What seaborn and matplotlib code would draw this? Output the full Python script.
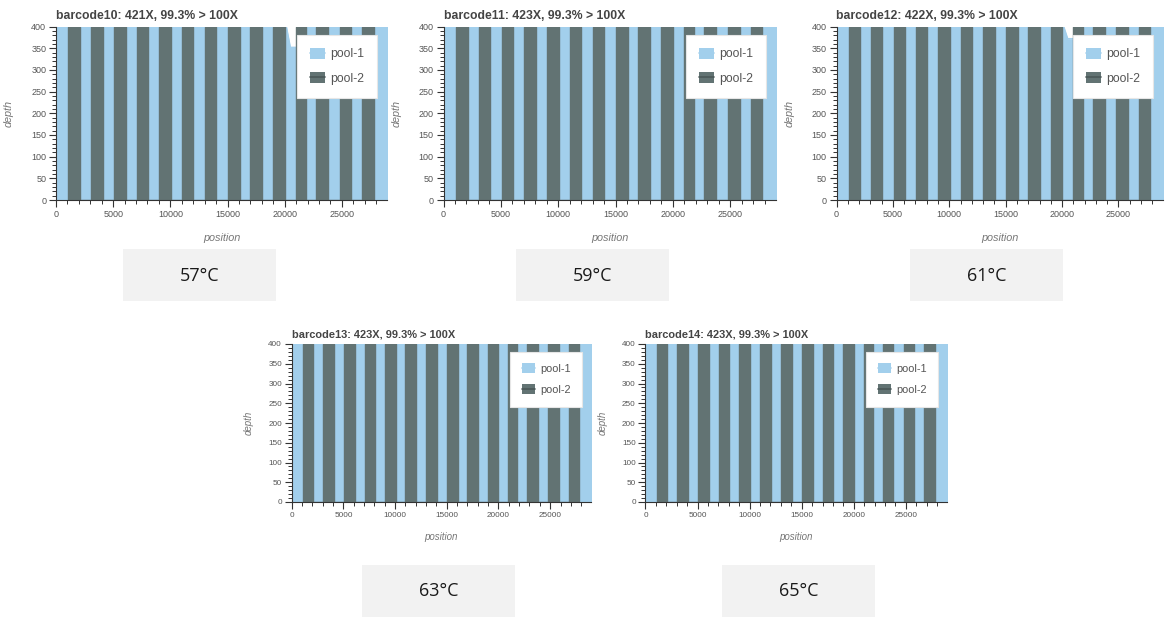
import numpy as np
import pandas as pd
import matplotlib
matplotlib.use("Agg")
import matplotlib.pyplot as plt
from matplotlib.patches import Patch, Rectangle
from matplotlib.lines import Line2D
from matplotlib.ticker import MultipleLocator
import seaborn as sns

# ---- amplicon layout (genome positions) ----
POOL2_START = [1077, 3056, 5064, 7043, 9022, 11001, 13009, 15046, 16997, 18975, 20954, 22758, 24796, 26779]
POOL2_END = [2095, 4075, 6083, 8062, 10041, 12020, 14028, 16065, 18015, 19994, 21827, 23777, 25814, 27798]
POOL1_START = [0, 1945, 3925, 5930, 7910, 9890, 11870, 13880, 15915, 17865, 20500, 21680, 23625, 25660, 27650]
POOL1_END = [1230, 3210, 5215, 7195, 9175, 11150, 13160, 15195, 17150, 20150, 21110, 22910, 24950, 26930, 29903]

# ---- per-sample depth (normalised) ----
TITLES = ["barcode10: 421X, 99.3% > 100X",
          "barcode11: 423X, 99.3% > 100X",
          "barcode12: 422X, 99.3% > 100X",
          "barcode13: 423X, 99.3% > 100X",
          "barcode14: 423X, 99.3% > 100X"]
TEMPS = ["57°C", "59°C", "61°C", "63°C", "65°C"]
POOL1_DEPTH = [
    [400] * 10 + [352] + [400] * 4,
    [400] * 15,
    [400] * 10 + [372] + [400] * 4,
    [400] * 15,
    [400] * 15,
]
POOL2_DEPTH = [[400] * 14 for _ in range(5)]
X_TICKS = [0, 5000, 10000, 15000, 20000, 25000]
Y_TICKS = [0, 50, 100, 150, 200, 250, 300, 350, 400]

LIGHT = "#a2cfec"
DARK = "#627373"

sns.set_style("ticks")
plt.rcParams["font.family"] = ["Liberation Sans", "DejaVu Sans"]

W, H = 1168, 619
fig = plt.figure(figsize=(W / 100, H / 100), dpi=100)

# panel rectangles in pixels: left, right, top, bottom, text scale
PANELS = [
    (56, 387, 26.5, 200, 1.0),
    (443.5, 775.5, 26.5, 200, 1.0),
    (836.5, 1163, 26.5, 200, 1.0),
    (291.7, 591, 344, 502, 0.9),
    (645.5, 947, 344, 502, 0.9),
]
BOXES = [
    (123, 276, 249.5, 301.5),
    (516, 669, 249.5, 301.5),
    (910, 1063, 249.5, 301.5),
    (362, 515, 565, 617),
    (722, 875, 565, 617),
]


def coverage_frames(i):
    # pool-1: continuous profile through amplicon plateaus
    x1, y1 = [], []
    for s, e, d in zip(POOL1_START, POOL1_END, POOL1_DEPTH[i]):
        x1 += [s, e]
        y1 += [d, d]
    # pool-2: separate blocks
    x2, y2 = [], []
    for s, e, d in zip(POOL2_START, POOL2_END, POOL2_DEPTH[i]):
        x2 += [s, s, e, e]
        y2 += [0, d, d, 0]
    return (pd.DataFrame({"position": x1, "depth": y1}),
            pd.DataFrame({"position": x2, "depth": y2}))


for i, (l, r, t, b, s) in enumerate(PANELS):
    ax = fig.add_axes([l / W, 1 - b / H, (r - l) / W, (b - t) / H])
    d1, d2 = coverage_frames(i)
    ax.fill_between(d1["position"], 0, d1["depth"], color=LIGHT, lw=0, zorder=1)
    sns.lineplot(data=d1, x="position", y="depth", sort=False, estimator=None,
                 color=LIGHT, lw=1, ax=ax, zorder=1.5)
    ax.fill_between(d2["position"], 0, d2["depth"], color=DARK, lw=0, zorder=2)
    sns.lineplot(data=d2, x="position", y="depth", sort=False, estimator=None,
                 color=DARK, lw=1, ax=ax, zorder=2.5)

    ax.set_xlim(0, 28950)
    ax.set_ylim(0, 400)
    ax.set_xticks(X_TICKS)
    ax.set_yticks(Y_TICKS)
    ax.xaxis.set_minor_locator(MultipleLocator(1000))
    ax.yaxis.set_minor_locator(MultipleLocator(10))
    ax.tick_params(which="major", direction="out", length=5, width=0.8,
                   color="#333333", labelsize=6.5 * s, labelcolor="#555555", pad=2)
    ax.tick_params(which="minor", direction="out", length=3, width=0.7, color="#333333")
    for sp in ["top", "right"]:
        ax.spines[sp].set_visible(False)
    for sp in ["left", "bottom"]:
        ax.spines[sp].set_color("#333333")
        ax.spines[sp].set_linewidth(0.8)
        ax.spines[sp].set_zorder(5)

    pw, ph = r - l, b - t
    ax.set_xlabel("position", fontsize=7.8 * s, style="italic", color="#777777")
    ax.set_ylabel("depth", fontsize=7.8 * s, style="italic", color="#777777")
    ax.xaxis.set_label_coords(0.5, -33 * s / ph)
    ax.yaxis.set_label_coords(-42 * s / pw, 0.5)

    fig.text(l / W, 1 - (t - 7.3 * s) / H, TITLES[i], fontsize=8.8 * s,
             fontweight="bold", color="#444444", ha="left", va="baseline")

    handles = [(Patch(facecolor=LIGHT, edgecolor="none"), Line2D([], [], color=LIGHT, lw=1.2)),
               (Patch(facecolor=DARK, edgecolor="none"), Line2D([], [], color="#4a5858", lw=1.2))]
    leg = ax.legend(handles, ["pool-1", "pool-2"], loc="upper right",
                    bbox_to_anchor=(1 - 10 * s / pw, 1 - 8.5 * s / ph), borderaxespad=0,
                    fontsize=8.8 * s, frameon=True, fancybox=False, framealpha=1,
                    edgecolor="#e6e6e6", facecolor="white", handlelength=1.25,
                    handleheight=1.0, handletextpad=0.4, labelspacing=0.95,
                    borderpad=1.05)
    leg.get_frame().set_linewidth(0.8)
    leg.set_zorder(10)
    for txt in leg.get_texts():
        txt.set_color("#555555")

for (x0, x1, y0, y1), lab in zip(BOXES, TEMPS):
    fig.add_artist(Rectangle((x0 / W, 1 - y1 / H), (x1 - x0) / W, (y1 - y0) / H,
                             transform=fig.transFigure, facecolor="#f2f2f2",
                             edgecolor="none"))
    fig.text((x0 + x1) / 2 / W, 1 - (y0 + y1) / 2 / H, lab, fontsize=13,
             family=["Open Sans", "DejaVu Sans"], color="#1a1a1a",
             ha="center", va="center")

fig.savefig("out.png", dpi=100, facecolor="white")
